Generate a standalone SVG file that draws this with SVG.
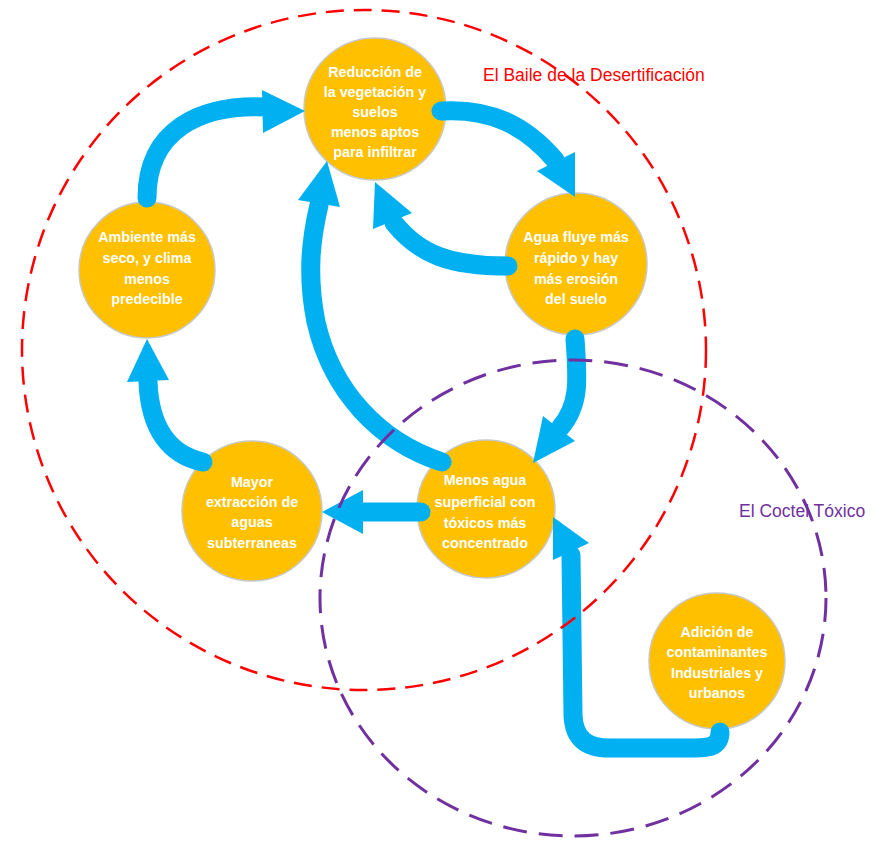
<svg xmlns="http://www.w3.org/2000/svg" width="884" height="846" viewBox="0 0 884 846">
<defs>
<style>
.node circle{fill:#FFC000;stroke:#C8C8C8;stroke-width:1.5}
.node text{fill:#FFFFFF;font-family:"Liberation Sans",Arial,sans-serif;font-weight:bold;font-size:14.3px;text-anchor:middle}
.shaft{fill:none;stroke:#00B0F0;stroke-width:19;stroke-linecap:round;stroke-linejoin:round}
.head{fill:#00B0F0}
.lbl{font-family:"Liberation Sans",Arial,sans-serif;font-size:17.5px}
</style>
</defs>
<rect width="884" height="846" fill="#FFFFFF"/>
<g id="n1" class="node"><circle cx="375" cy="109" r="71"/>
<text x="375" y="77">Reducción de</text><text x="375" y="97">la vegetación y</text><text x="375" y="117">suelos</text><text x="375" y="137">menos aptos</text><text x="375" y="157">para infiltrar</text></g>
<g id="n2" class="node"><circle cx="576" cy="264" r="71"/>
<text x="576" y="242">Agua fluye más</text><text x="576" y="263">rápido y hay</text><text x="576" y="284">más erosión</text><text x="576" y="304">del suelo</text></g>
<g id="n3" class="node"><circle cx="147" cy="270" r="68"/>
<text x="147" y="242">Ambiente más</text><text x="147" y="263">seco, y clima</text><text x="147" y="284">menos</text><text x="147" y="304">predecible</text></g>
<g id="n4" class="node"><circle cx="252" cy="511" r="70"/>
<text x="252" y="487">Mayor</text><text x="252" y="507">extracción de</text><text x="252" y="527">aguas</text><text x="252" y="548">subterraneas</text></g>
<g id="n5" class="node"><circle cx="486" cy="509" r="69"/>
<text x="485" y="485">Menos agua</text><text x="485" y="507">superficial con</text><text x="485" y="528">tóxicos más</text><text x="485" y="548">concentrado</text></g>
<g id="n6" class="node"><circle cx="717" cy="661" r="68"/>
<text x="717" y="637">Adición de</text><text x="717" y="657">contaminantes</text><text x="717" y="678">Industriales y</text><text x="717" y="698">urbanos</text></g>
<g id="connectors">
<path class="shaft" d="M147,198 C147,130 200,104 266,107"/>
<polygon class="head" points="262,90 305,111 263,133"/>
<path class="shaft" d="M441,111 C490,108 525,125 555,160"/>
<polygon class="head" points="537,171 575,152 575,197"/>
<path class="shaft" d="M508,266 C450,266 420,255 394,223"/>
<polygon class="head" points="373,229 375,182 412,213"/>
<path class="shaft" d="M575,339 C578,380 580,405 560,428"/>
<polygon class="head" points="543,416 575,441 533,463"/>
<path class="shaft" d="M442,462 C380,442 332,392 316,322 C306,272 312,235 319,205"/>
<polygon class="head" points="298,200 327,161 340,207"/>
<path class="shaft" d="M421,512 L362,512"/>
<polygon class="head" points="363,490 322,512 363,534"/>
<path class="shaft" d="M203,462 C170,455 150,430 148,382"/>
<polygon class="head" points="127,382 147,339 169,380"/>
<path class="shaft" d="M720,732 C720,746 710,748 695,748 L610,748 C588,748 574,740 573,715 L571,555"/>
<polygon class="head" points="553,560 553,517 589,543"/>
</g>
<ellipse cx="364" cy="350" rx="342" ry="340" fill="none" stroke="#FF0000" stroke-width="2.5" stroke-dasharray="18 10"/>
<ellipse cx="573" cy="598" rx="253" ry="238" fill="none" stroke="#7030A0" stroke-width="3" stroke-dasharray="24 12"/>
<text class="lbl" x="483" y="81" fill="#FF0000">El Baile de la Desertificación</text>
<text class="lbl" x="739" y="517" fill="#7030A0">El Coctel Tóxico</text>
</svg>
